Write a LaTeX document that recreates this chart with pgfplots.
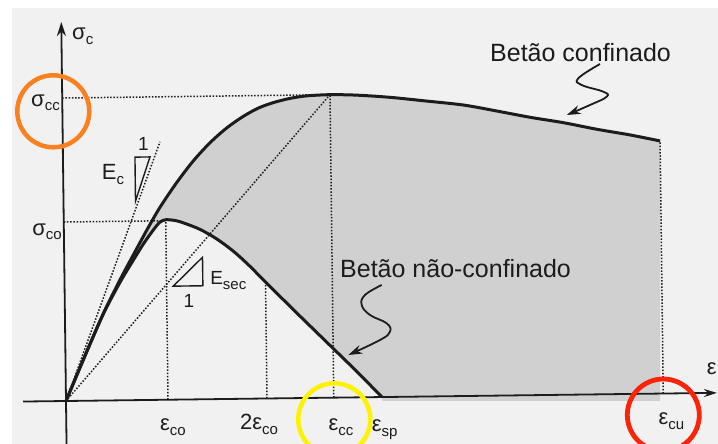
\documentclass[border=0pt]{standalone}
\usepackage{pgfplots}
\pgfplotsset{compat=1.18}
\usepackage{pgfplotstable}
\usepackage{fontspec}
\setmainfont{Liberation Sans}
\usetikzlibrary{arrows.meta}

\definecolor{paper}{RGB}{241,241,242}
\definecolor{shade}{RGB}{208,208,208}
\definecolor{ink}{RGB}{28,28,28}
\definecolor{markorange}{RGB}{250,128,32}
\definecolor{markyellow}{RGB}{255,242,0}
\definecolor{markred}{RGB}{252,36,8}

% symbol with a lowered subscript
\newcommand{\lab}[2]{{\fontsize{22bp}{24bp}\selectfont #1}\raisebox{-4.5bp}{\fontsize{15bp}{17bp}\selectfont #2}}
\newcommand{\callout}{\fontsize{25bp}{30bp}\selectfont}

% confined concrete (strain, stress)
\pgfplotstableread{
eps sig
0     0
0.200 0.460
0.384 0.870
0.555 1.205
0.690 1.450
0.830 1.700
0.964 1.925
1.134 2.170
1.303 2.385
1.473 2.565
1.641 2.710
1.810 2.825
1.960 2.905
2.111 2.958
2.278 2.998
2.445 3.021
2.678 3.030
2.945 3.022
3.278 2.996
3.610 2.958
4.010 2.910
4.343 2.846
4.675 2.779
5.008 2.721
5.341 2.651
5.673 2.590
5.973 2.526
}\confined

% unconfined concrete (strain, stress)
\pgfplotstableread{
eps sig
0     0
0.200 0.460
0.384 0.865
0.555 1.180
0.691 1.400
0.793 1.560
0.895 1.700
0.960 1.775
1.020 1.800
1.120 1.790
1.200 1.765
1.360 1.700
1.530 1.600
1.700 1.470
1.850 1.330
2.000 1.175
2.300 0.870
2.600 0.570
2.900 0.270
3.160 0
}\unconfined

\begin{document}
\begin{tikzpicture}
\useasboundingbox (0bp,0bp) rectangle (718bp,444bp);
\clip (0bp,0bp) rectangle (718bp,444bp);
\fill[white] (0bp,0bp) rectangle (718bp,444bp);
\fill[paper] (12bp,0bp) rectangle (718bp,436bp);

\begin{axis}[
  at={(66bp,43bp)}, anchor=origin,
  x={(99.99bp,1.25bp)}, y={(-1.25bp,99.99bp)},
  xmin=-0.43, xmax=6.51, ymin=-0.5, ymax=3.79,
  axis lines=middle, axis on top,
  axis line style={ink, line width=1.8bp},
  x axis line style={-{Stealth[length=13bp,width=8bp]}},
  y axis line style={-{Stealth[length=14bp,width=9bp]}},
  xtick=\empty, ytick=\empty,
  clip=false,
  dots/.style={ink, line width=1.5bp, dash pattern=on 1.5bp off 1.7bp},
]
% shaded gain between the two laws
\addplot[fill=shade, draw=none] table[x=eps,y=sig] {\confined} \closedcycle;
\addplot[fill=paper, draw=none] table[x=eps,y=sig] {\unconfined} \closedcycle;

% reference lines
\addplot[dots] coordinates {(0,3.03) (2.678,3.03)};
\addplot[dots] coordinates {(2.678,0) (2.678,3.03)};
\addplot[dots] coordinates {(0,1.79) (1.02,1.79)};
\addplot[dots] coordinates {(1.02,0) (1.02,1.80)};
\addplot[dots] coordinates {(2.01,0) (2.01,1.165)};
\addplot[dots] coordinates {(5.973,0) (5.973,2.526)};
\addplot[dots] coordinates {(0,0) (0.972,2.58)};
\addplot[dots] coordinates {(0,0) (2.678,3.03)};

% stress-strain laws
\addplot[ink, line width=3bp, smooth] table[x=eps,y=sig] {\confined};
\addplot[ink, line width=3bp, smooth] table[x=eps,y=sig] {\unconfined};

% slope triangles
\addplot[ink, line width=1.4bp] coordinates {(0.72,2.43) (0.87,2.43) (0.72,1.99)} --cycle;
\addplot[ink, line width=1.4bp] coordinates {(1.087,1.135) (1.383,1.135) (1.383,1.42)} --cycle;

% labels
\node[anchor=base west, inner sep=0, text=ink] at (axis cs:0.105,3.61) {\lab{σ}{c}};
\node[anchor=base east, inner sep=0, text=ink] at (axis cs:-0.023,2.95) {\lab{σ}{cc}};
\node[anchor=base east, inner sep=0, text=ink] at (axis cs:-0.02,1.66) {\lab{σ}{co}};
\node[anchor=base west, inner sep=0, text=ink] at (axis cs:0.936,-0.31) {\lab{ε}{co}};
\node[anchor=base west, inner sep=0, text=ink] at (axis cs:1.736,-0.31) {\lab{2ε}{co}};
\node[anchor=base west, inner sep=0, text=ink] at (axis cs:2.62,-0.33) {\lab{ε}{cc}};
\node[anchor=base west, inner sep=0, text=ink] at (axis cs:3.053,-0.345) {\lab{ε}{sp}};
\node[anchor=base west, inner sep=0, text=ink] at (axis cs:5.92,-0.314) {\lab{ε}{cu}};
\node[anchor=base west, inner sep=0, text=ink] at (axis cs:6.41,0.18) {\lab{ε}{}};
\node[anchor=base west, inner sep=0, text=ink] at (axis cs:0.385,2.206) {\lab{E}{c}};
\node[anchor=base west, inner sep=0, text=ink] at (axis cs:0.751,2.50) {\fontsize{19bp}{21bp}\selectfont 1};
\node[anchor=base west, inner sep=0, text=ink] at (axis cs:1.455,1.142) {{\fontsize{19bp}{21bp}\selectfont E}\raisebox{-4.5bp}{\fontsize{15bp}{17bp}\selectfont sec}};
\node[anchor=base west, inner sep=0, text=ink] at (axis cs:1.185,0.925) {\fontsize{19bp}{21bp}\selectfont 1};
\end{axis}

% call-outs
\node[anchor=base west, inner sep=0, text=ink] at (490bp,382bp) {\callout Betão confinado};
\node[anchor=base west, inner sep=0, text=ink] at (340bp,166bp) {\callout Betão não-confinado};
\draw[ink, line width=1.8bp, -{Stealth[length=14bp,width=9bp]}]
  plot[smooth, tension=0.7] coordinates {(600bp,380bp) (578.3bp,365.7bp) (581.7bp,359bp) (603.3bp,352.3bp) (606.7bp,347.3bp) (590bp,339bp) (566.7bp,329bp)};
\draw[ink, line width=1.8bp, -{Stealth[length=14bp,width=9bp]}]
  plot[smooth, tension=0.7] coordinates {(381.7bp,159bp) (365bp,149bp) (361.7bp,139bp) (370bp,129bp) (386.7bp,120.7bp) (390bp,112.3bp) (380bp,104bp) (348.3bp,89bp)};

% highlight rings
\draw[markorange, line width=4.5bp] (53.3bp,332.7bp) circle (36bp);
\draw[markyellow, line width=4.5bp] (334.3bp,24.7bp) circle (36bp);
\draw[markred, line width=4.8bp] (663.3bp,29bp) circle (36bp);
\end{tikzpicture}
\end{document}
